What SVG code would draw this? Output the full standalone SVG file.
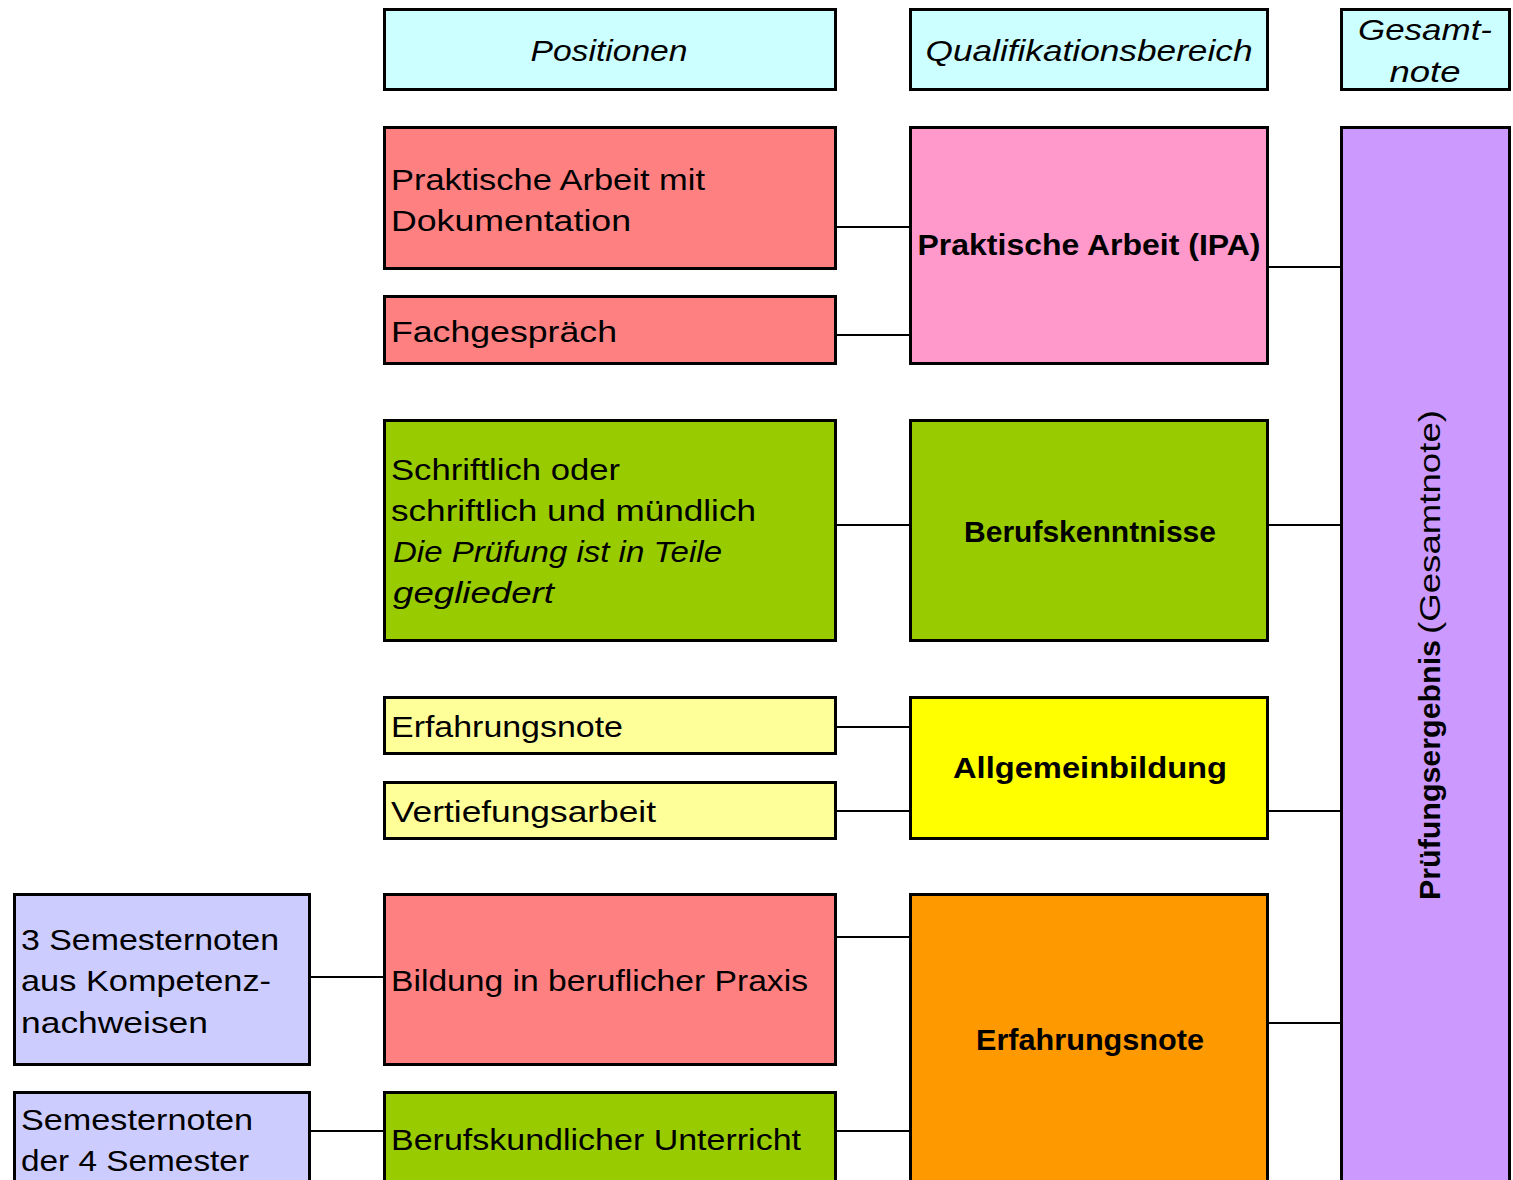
<svg xmlns="http://www.w3.org/2000/svg" width="1513" height="1180" viewBox="0 0 1513 1180">
<style>
.box{stroke:#000;stroke-width:3}
.t{font-family:"Liberation Sans","DejaVu Sans",sans-serif;font-size:29px;fill:#000}
.b{font-weight:bold;text-anchor:middle}
.i{font-style:italic}
.c{text-anchor:middle}
.hd{fill:#CCFFFF}.red{fill:#FF8080}.pink{fill:#FF99CC}.grn{fill:#99CC00}.ly{fill:#FFFF99}.yel{fill:#FFFF00}.org{fill:#FF9900}.lav{fill:#CCCCFF}.pur{fill:#CC99FF}
.conn line{stroke:#000;stroke-width:2}
</style>
<rect width="1513" height="1180" fill="#fff"/>
<g class="conn">
<line x1="835" y1="227" x2="910" y2="227"/>
<line x1="835" y1="335" x2="910" y2="335"/>
<line x1="835" y1="525" x2="910" y2="525"/>
<line x1="835" y1="727" x2="910" y2="727"/>
<line x1="835" y1="811" x2="910" y2="811"/>
<line x1="835" y1="937" x2="910" y2="937"/>
<line x1="835" y1="1131" x2="910" y2="1131"/>
<line x1="309" y1="977" x2="384" y2="977"/>
<line x1="309" y1="1131" x2="384" y2="1131"/>
<line x1="1267" y1="267" x2="1341" y2="267"/>
<line x1="1267" y1="525" x2="1341" y2="525"/>
<line x1="1267" y1="811" x2="1341" y2="811"/>
<line x1="1267" y1="1023" x2="1341" y2="1023"/>
</g>
<g id="h-positionen"><rect class="box hd" x="384.5" y="9.5" width="451" height="80"/><text class="t i c" x="609" y="61" textLength="157" lengthAdjust="spacingAndGlyphs">Positionen</text></g>
<g id="h-qualifikation"><rect class="box hd" x="910.5" y="9.5" width="357" height="80"/><text class="t i c" x="1089" y="61" textLength="327" lengthAdjust="spacingAndGlyphs">Qualifikationsbereich</text></g>
<g id="h-gesamtnote"><rect class="box hd" x="1341.5" y="9.5" width="168" height="80"/><text class="t i c" x="1425" y="40" textLength="134" lengthAdjust="spacingAndGlyphs">Gesamt-</text><text class="t i c" x="1425" y="82" textLength="71" lengthAdjust="spacingAndGlyphs">note</text></g>

<g id="n-praktische-arbeit-dok"><rect class="box red" x="384.5" y="127.5" width="451" height="141"/><text class="t" x="391" y="190" textLength="314" lengthAdjust="spacingAndGlyphs">Praktische Arbeit mit</text><text class="t" x="391" y="231" textLength="240" lengthAdjust="spacingAndGlyphs">Dokumentation</text></g>
<g id="n-fachgespraech"><rect class="box red" x="384.5" y="296.5" width="451" height="67"/><text class="t" x="391" y="342" textLength="226" lengthAdjust="spacingAndGlyphs">Fachgespräch</text></g>
<g id="q-ipa"><rect class="box pink" x="910.5" y="127.5" width="357" height="236"/><text class="t b" x="1089" y="255" textLength="343" lengthAdjust="spacingAndGlyphs">Praktische Arbeit (IPA)</text></g>

<g id="n-schriftlich"><rect class="box grn" x="384.5" y="420.5" width="451" height="220"/><text class="t" x="391" y="480" textLength="229" lengthAdjust="spacingAndGlyphs">Schriftlich oder</text><text class="t" x="391" y="521" textLength="365" lengthAdjust="spacingAndGlyphs">schriftlich und mündlich</text><text class="t i" x="393" y="562" textLength="329" lengthAdjust="spacingAndGlyphs">Die Prüfung ist in Teile</text><text class="t i" x="393" y="603" textLength="161" lengthAdjust="spacingAndGlyphs">gegliedert</text></g>
<g id="q-berufskenntnisse"><rect class="box grn" x="910.5" y="420.5" width="357" height="220"/><text class="t b" x="1090" y="542" textLength="252" lengthAdjust="spacingAndGlyphs">Berufskenntnisse</text></g>

<g id="n-erfahrungsnote"><rect class="box ly" x="384.5" y="697.5" width="451" height="56"/><text class="t" x="391" y="737" textLength="232" lengthAdjust="spacingAndGlyphs">Erfahrungsnote</text></g>
<g id="n-vertiefungsarbeit"><rect class="box ly" x="384.5" y="782.5" width="451" height="56"/><text class="t" x="391" y="822" textLength="265" lengthAdjust="spacingAndGlyphs">Vertiefungsarbeit</text></g>
<g id="q-allgemeinbildung"><rect class="box yel" x="910.5" y="697.5" width="357" height="141"/><text class="t b" x="1090" y="778" textLength="274" lengthAdjust="spacingAndGlyphs">Allgemeinbildung</text></g>

<g id="s-kompetenz"><rect class="box lav" x="14.5" y="894.5" width="295" height="170"/><text class="t" x="21" y="950" textLength="258" lengthAdjust="spacingAndGlyphs">3 Semesternoten</text><text class="t" x="21" y="991" textLength="250" lengthAdjust="spacingAndGlyphs">aus Kompetenz-</text><text class="t" x="21" y="1033" textLength="187" lengthAdjust="spacingAndGlyphs">nachweisen</text></g>
<g id="n-bildung-praxis"><rect class="box red" x="384.5" y="894.5" width="451" height="170"/><text class="t" x="391" y="991" textLength="417" lengthAdjust="spacingAndGlyphs">Bildung in beruflicher Praxis</text></g>
<g id="s-semesternoten"><rect class="box lav" x="14.5" y="1092.5" width="295" height="100"/><text class="t" x="21" y="1130" textLength="232" lengthAdjust="spacingAndGlyphs">Semesternoten</text><text class="t" x="21" y="1171" textLength="228" lengthAdjust="spacingAndGlyphs">der 4 Semester</text></g>
<g id="n-berufskundlich"><rect class="box grn" x="384.5" y="1092.5" width="451" height="100"/><text class="t" x="391" y="1150" textLength="410" lengthAdjust="spacingAndGlyphs">Berufskundlicher Unterricht</text></g>
<g id="q-erfahrungsnote"><rect class="box org" x="910.5" y="894.5" width="357" height="300"/><text class="t b" x="1090" y="1050" textLength="228" lengthAdjust="spacingAndGlyphs">Erfahrungsnote</text></g>

<g id="g-pruefungsergebnis"><rect class="box pur" x="1341.5" y="127.5" width="168" height="1070"/><text class="t" transform="translate(1440 900) rotate(-90)"><tspan font-weight="bold" textLength="260" lengthAdjust="spacingAndGlyphs">Prüfungsergebnis</tspan><tspan x="266" textLength="224" lengthAdjust="spacingAndGlyphs">(Gesamtnote)</tspan></text></g>
</svg>
